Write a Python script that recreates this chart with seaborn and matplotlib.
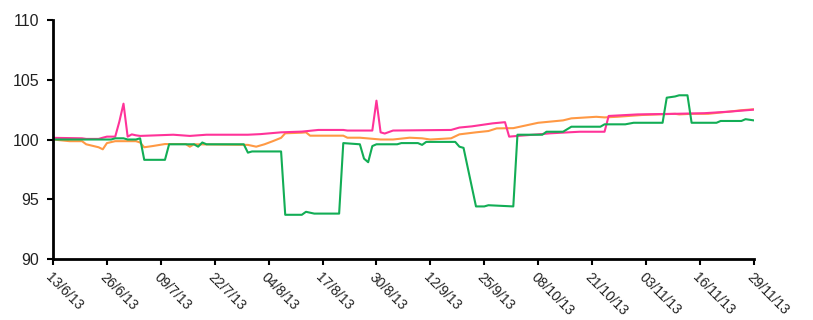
"""
Three index series, June - November 2013, redrawn with seaborn.
"""

import pandas as pd
import matplotlib
matplotlib.use("Agg")
import matplotlib.pyplot as plt
import seaborn as sns

start = pd.Timestamp("2013-06-13")

# day offsets from 13/6/13 and values
green_days = [0, 14, 15, 17, 18, 20, 21, 22, 27, 28, 34, 35, 36, 37, 46, 47, 48, 55, 56, 60,
              61, 63, 69, 70, 74, 75, 76, 77, 78, 83, 84, 88, 89, 90, 97, 98, 99, 102, 104, 105,
              111, 112, 118, 119, 123, 125, 132, 133, 138, 140, 147, 148, 150, 151, 153, 154,
              160, 161, 166, 167, 169]
green_vals = [100.0, 100.0, 100.1, 100.1, 100.0, 100.0, 100.1, 98.3, 98.3, 99.6, 99.6, 99.4,
              99.75, 99.6, 99.6, 98.9, 99.0, 99.0, 93.7, 93.7, 93.95, 93.8, 93.8, 99.7, 99.6,
              98.4, 98.1, 99.45, 99.6, 99.6, 99.7, 99.7, 99.55, 99.8, 99.8, 99.4, 99.3, 94.4,
              94.4, 94.5, 94.4, 100.4, 100.4, 100.65, 100.65, 101.07, 101.07, 101.27, 101.27,
              101.4, 101.4, 103.5, 103.6, 103.7, 103.7, 101.4, 101.4, 101.55, 101.55, 101.7,
              101.6]

pink_days = [0, 7, 8, 11, 12, 13, 15, 16, 17, 18, 19, 20, 21, 25, 29, 33, 37, 47, 50, 55,
             60, 64, 70, 71, 77, 78, 79, 80, 82, 96, 98, 101, 106, 109, 110, 112, 117, 120,
             127, 133, 134, 141, 150, 157, 163, 168, 169]
pink_vals = [100.14, 100.1, 100.05, 100.05, 100.15, 100.24, 100.24, 101.5, 103.0, 100.24,
             100.43, 100.35, 100.3, 100.35, 100.4, 100.3, 100.4, 100.4, 100.45, 100.6, 100.66,
             100.8, 100.8, 100.75, 100.75, 103.25, 100.6, 100.5, 100.75, 100.8, 101.0, 101.1,
             101.35, 101.45, 100.24, 100.3, 100.43, 100.52, 100.65, 100.65, 101.97, 102.1,
             102.15, 102.2, 102.33, 102.47, 102.5]

orange_days = [0, 4, 7, 8, 11, 12, 13, 15, 20, 21, 22, 24, 27, 32, 33, 34, 47, 49, 51, 53,
               55, 56, 60, 61, 62, 70, 71, 74, 79, 82, 86, 89, 91, 96, 98, 102, 105, 107, 111,
               113, 117, 120, 123, 125, 131, 133, 136, 142, 150, 151, 154, 158, 163, 166, 169]
orange_vals = [100.0, 99.86, 99.86, 99.6, 99.35, 99.18, 99.7, 99.86, 99.86, 99.75, 99.35,
               99.45, 99.62, 99.62, 99.4, 99.6, 99.55, 99.4, 99.6, 99.86, 100.14, 100.52,
               100.57, 100.6, 100.32, 100.32, 100.15, 100.15, 100.0, 100.0, 100.15, 100.1,
               100.0, 100.1, 100.43, 100.6, 100.71, 100.93, 100.95, 101.1, 101.4, 101.5, 101.6,
               101.77, 101.9, 101.85, 101.9, 102.05, 102.15, 102.1, 102.15, 102.15, 102.33,
               102.45, 102.53]

colors = {"pink": "#ff3399", "orange": "#ff9944", "green": "#12ad55"}


def build_frame():
    parts = []
    for name, days, vals in [("orange", orange_days, orange_vals),
                             ("pink", pink_days, pink_vals),
                             ("green", green_days, green_vals)]:
        part = pd.DataFrame({"date": start + pd.to_timedelta(days, unit="D"),
                             "value": vals, "series": name})
        parts.append(part)
    return pd.concat(parts, ignore_index=True)


def main():
    df = build_frame()
    sns.set_style("white")
    plt.rcParams["font.family"] = ["Liberation Sans", "DejaVu Sans"]

    fig = plt.figure(figsize=(8.13, 3.2), dpi=100)
    ax = fig.add_axes([0.0652, 0.1906, 0.8620, 0.7469])
    sns.lineplot(data=df, x="date", y="value", hue="series", palette=colors,
                 linewidth=1.5, legend=False, ax=ax)

    ticks = pd.date_range(start, periods=14, freq="13D")
    ax.set_xlim(ticks[0], ticks[-1])
    ax.set_ylim(90, 110)
    ax.set_yticks([90, 95, 100, 105, 110])
    ax.set_xticks(ticks)
    ax.set_xticklabels([f"{d.day:02d}/{d.month}/{d:%y}" for d in ticks],
                       rotation=-45, ha="left", va="top", rotation_mode="anchor")
    ax.tick_params(axis="both", length=4, width=1.5, color="black",
                   direction="out", bottom=True, left=True)
    ax.tick_params(axis="y", labelsize=11.5, pad=6, labelcolor="#222222")
    ax.tick_params(axis="x", labelsize=10, pad=4, labelcolor="#222222")
    ax.set_xlabel("")
    ax.set_ylabel("")
    for side in ["top", "right"]:
        ax.spines[side].set_visible(False)
    for side in ["left", "bottom"]:
        ax.spines[side].set_color("black")
        ax.spines[side].set_linewidth(2)
    ax.grid(False)

    fig.savefig("out.png", dpi=100)


if __name__ == "__main__":
    main()
